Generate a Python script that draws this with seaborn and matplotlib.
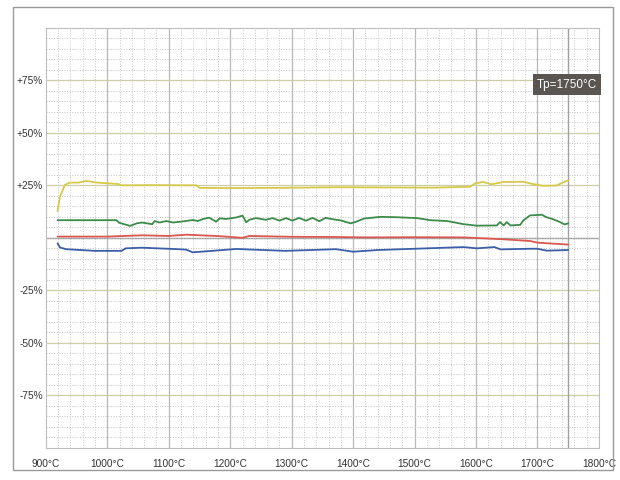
import pandas as pd
import matplotlib.pyplot as plt
import seaborn as sns
from matplotlib.patches import Rectangle
from matplotlib.ticker import MultipleLocator

# Readings (temperature in °C, change in %)
yellow_t = [919, 923, 931, 939, 953, 966, 980, 1018, 1023, 1080, 1145, 1150, 1200, 1280,
            1372, 1450, 1530, 1590, 1599, 1612, 1625, 1645, 1677, 1693, 1709, 1731, 1742, 1750]
yellow_v = [12.7, 19.7, 25.2, 26.3, 26.3, 27.1, 26.4, 25.6, 25.0, 25.1, 25.0, 23.8, 23.7, 23.8,
            24.1, 24.0, 23.9, 24.3, 26.0, 26.6, 25.5, 26.6, 26.7, 25.6, 24.8, 24.9, 26.5, 27.3]

green_t = [919, 1015, 1019, 1037, 1048, 1056, 1073, 1077, 1085, 1096, 1107, 1128, 1139, 1147,
           1156, 1166, 1177, 1183, 1193, 1210, 1220, 1226, 1231, 1242, 1258, 1269, 1280, 1291,
           1301, 1312, 1323, 1334, 1345, 1355, 1372, 1380, 1396, 1405, 1418, 1445, 1472, 1504,
           1526, 1553, 1580, 1601, 1634, 1639, 1645, 1650, 1656, 1672, 1677, 1688, 1707, 1714,
           1726, 1736, 1744, 1750]
green_v = [8.4, 8.4, 7.2, 5.7, 6.9, 7.3, 6.5, 8.0, 7.3, 8.0, 7.3, 8.0, 8.5, 8.0,
           9.0, 9.6, 7.7, 9.3, 9.0, 9.7, 10.6, 7.4, 8.6, 9.4, 8.6, 9.4, 8.2, 9.4,
           8.2, 9.5, 8.2, 9.5, 7.9, 9.5, 8.6, 8.3, 6.9, 7.7, 9.2, 10.0, 9.8, 9.4,
           8.4, 8.0, 6.5, 5.8, 5.9, 7.5, 5.9, 7.5, 5.9, 6.2, 8.3, 10.7, 11.0, 9.9,
           8.8, 7.6, 6.4, 6.9]

red_t = [919, 1000, 1056, 1100, 1129, 1183, 1220, 1231, 1300, 1372, 1420, 1500, 1580, 1610,
         1645, 1688, 1700, 1750]
red_v = [0.6, 0.6, 1.2, 0.9, 1.5, 0.8, 0.0, 0.9, 0.5, 0.4, 0.2, 0.3, 0.2, -0.2,
         -0.7, -1.5, -2.3, -3.2]

blue_t = [919, 923, 933, 980, 1023, 1030, 1056, 1107, 1128, 1139, 1210, 1290, 1372, 1400,
          1440, 1580, 1601, 1630, 1640, 1688, 1700, 1715, 1750]
blue_v = [-2.6, -4.6, -5.4, -6.2, -6.2, -5.0, -4.7, -5.3, -5.6, -6.9, -5.3, -6.2, -5.4, -6.6,
          -5.8, -4.4, -5.0, -4.4, -5.5, -5.2, -5.2, -6.1, -5.8]

series_names = ["yellow", "green", "red", "blue"]
colors = {"yellow": "#d6c94a", "green": "#3d8b4a", "red": "#d9574f", "blue": "#3c5ea6"}

y_ticks = [-75, -50, -25, 25, 50, 75]
y_labels = ["-75%", "-50%", "-25%", "+25%", "+50%", "+75%"]
x_ticks = list(range(900, 1801, 100))
x_labels = [f"{t}°C" for t in x_ticks]
tp = 1750

df = pd.concat([
    pd.DataFrame({"temp": yellow_t, "change": yellow_v, "series": "yellow"}),
    pd.DataFrame({"temp": green_t, "change": green_v, "series": "green"}),
    pd.DataFrame({"temp": red_t, "change": red_v, "series": "red"}),
    pd.DataFrame({"temp": blue_t, "change": blue_v, "series": "blue"}),
])

sns.set_style("white")
plt.rcParams['font.family'] = ['Liberation Sans Narrow', 'Liberation Sans', 'DejaVu Sans']

fig = plt.figure(figsize=(6.2, 4.8), dpi=100)
ax = fig.add_axes([0.074, 0.067, 0.892, 0.875])

# outer frame of the scanned chart
fig.patches.append(Rectangle((0.021, 0.02), 0.967, 0.965, transform=fig.transFigure,
                             fill=False, edgecolor="#9a9a9a", linewidth=1.0))

sns.lineplot(data=df, x="temp", y="change", hue="series", palette=colors,
             hue_order=series_names, estimator=None, sort=False, linewidth=1.3,
             legend=False, ax=ax)

ax.set_xlim(900, 1800)
ax.set_ylim(-100, 100)
ax.xaxis.set_minor_locator(MultipleLocator(20))
ax.yaxis.set_minor_locator(MultipleLocator(5))
ax.grid(which="minor", color="#c4c4c4", linestyle=":", linewidth=0.7)
ax.set_axisbelow(True)
for t in x_ticks[1:-1]:
    ax.axvline(t, color="#b8b8b8", linewidth=0.9, zorder=0.5)
for v in y_ticks:
    ax.axhline(v, color="#cfcfa6", linewidth=0.9, zorder=0.5)
ax.axhline(0, color="#9a9a9a", linewidth=1.0, zorder=0.5)
ax.axvline(tp, color="#a0a0a0", linewidth=1.0, zorder=0.5)

ax.set_xticks(x_ticks)
ax.set_xticklabels(x_labels)
ax.set_yticks(y_ticks)
ax.set_yticklabels(y_labels)
ax.tick_params(axis="both", length=0, labelsize=7.3, colors="#333333")
ax.tick_params(axis="x", pad=8)
ax.tick_params(axis="y", pad=2)
ax.set_xlabel("")
ax.set_ylabel("")
for s in ax.spines.values():
    s.set_color("#bdbdbd")
    s.set_linewidth(0.8)

ax.text(tp - 2, 73, f"Tp={tp}°C", ha="center", va="center", fontsize=8.5, color="white",
        bbox=dict(boxstyle="square,pad=0.35", facecolor="#5a5550", edgecolor="none"))

plt.savefig("out.png", dpi=100)
